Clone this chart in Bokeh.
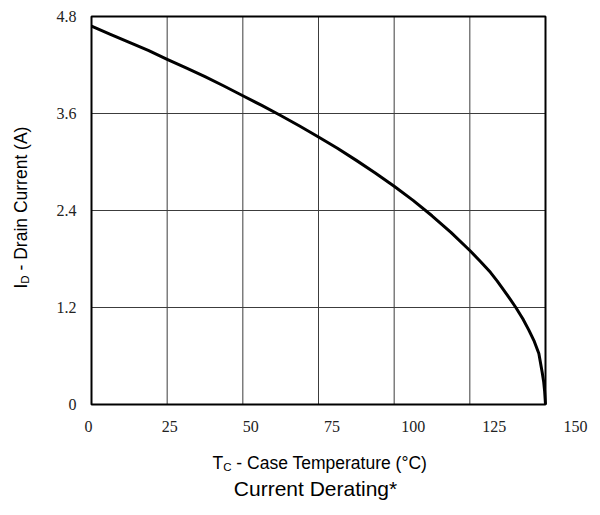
import math

from bokeh.embed import file_html
from bokeh.models import FixedTicker, Label, Range1d
from bokeh.plotting import figure
from bokeh.resources import INLINE

# Drain current limit versus case temperature
case_temp = [0, 6.25, 12.5, 18.75, 25, 31.25, 37.5, 43.75, 50, 56.25, 62.5, 68.75,
             75, 81.25, 87.5, 93.75, 100, 106.25, 112.5, 118.75, 125, 128.5,
             131.8, 134, 136.2, 138.2, 140.2, 142.5, 144.5, 146.3, 147.8, 148.9,
             149.4, 149.7, 150]
drain_current = [4.68, 4.58, 4.48, 4.38, 4.27, 4.165, 4.055, 3.94, 3.82, 3.70, 3.575, 3.445,
                 3.31, 3.17, 3.02, 2.865, 2.70, 2.525, 2.335, 2.13, 1.905, 1.77,
                 1.635, 1.53, 1.415, 1.31, 1.20, 1.06, 0.92, 0.78, 0.63, 0.40,
                 0.28, 0.17, 0.0]

temp_ticks = [0, 25, 50, 75, 100, 125, 150]
temp_tick_labels = ["0", "25", "50", "75", "100", "125", "150"]
current_ticks = [0, 1.2, 2.4, 3.6, 4.8]
current_tick_labels = ["0", "1.2", "2.4", "3.6", "4.8"]

T_MIN, T_MAX = 0, 150
I_MIN, I_MAX = 0, 4.8

# Canvas geometry (pixels)
W, H = 600, 515
FRAME_L, FRAME_R, FRAME_T, FRAME_B = 80, 585, 12, 408
BOX_L, BOX_R, BOX_T, BOX_B = 91, 545, 16, 404
LAB_0, LAB_150 = 88, 575  # where the temperature labels sit

# plotting range for the grid box and the curve
tc_scale = (BOX_R - BOX_L) / (T_MAX - T_MIN)
tc_range = Range1d(T_MIN - (BOX_L - FRAME_L) / tc_scale, T_MAX + (FRAME_R - BOX_R) / tc_scale)

# range used by the temperature labels along the bottom
lab_scale = (LAB_150 - LAB_0) / (T_MAX - T_MIN)
lab_range = Range1d(T_MIN - (LAB_0 - FRAME_L) / lab_scale, T_MAX + (FRAME_R - LAB_150) / lab_scale)

y_scale = (BOX_B - BOX_T) / (I_MAX - I_MIN)
y_range = Range1d(I_MIN - (FRAME_B - BOX_B) / y_scale, I_MAX + (BOX_T - FRAME_T) / y_scale)

p = figure(
    width=W, height=H,
    x_range=lab_range, y_range=y_range,
    output_backend="svg", toolbar_location=None,
    min_border_left=FRAME_L, min_border_right=W - FRAME_R,
    min_border_top=FRAME_T, min_border_bottom=H - FRAME_B,
)
p.extra_x_ranges = {"tc": tc_range}
p.outline_line_color = None
p.background_fill_color = "white"
p.border_fill_color = "white"
p.xgrid.visible = False
p.ygrid.visible = False

tick_font = "Liberation Serif"
for ax in (p.xaxis[0], p.yaxis[0]):
    ax.axis_line_color = None
    ax.major_tick_line_color = None
    ax.minor_tick_line_color = None
    ax.major_tick_out = 0
    ax.major_tick_in = 0
    ax.major_label_text_font = tick_font
    ax.major_label_text_font_size = "16px"
    ax.major_label_text_color = "#222222"

p.xaxis.ticker = FixedTicker(ticks=temp_ticks)
p.xaxis.major_label_overrides = dict(zip(temp_ticks, temp_tick_labels))
p.xaxis.major_label_standoff = 12
p.yaxis.ticker = FixedTicker(ticks=current_ticks)
p.yaxis.major_label_overrides = dict(zip(current_ticks, current_tick_labels))
p.yaxis.major_label_standoff = 4

# grid lines
grid_color = "#3c3c3c"
p.segment(x0=temp_ticks, y0=[I_MIN] * len(temp_ticks), x1=temp_ticks, y1=[I_MAX] * len(temp_ticks),
          line_color=grid_color, line_width=1, x_range_name="tc")
p.segment(x0=[T_MIN] * len(current_ticks), y0=current_ticks, x1=[T_MAX] * len(current_ticks), y1=current_ticks,
          line_color=grid_color, line_width=1, x_range_name="tc")

# box around the plot area
p.quad(left=[T_MIN], right=[T_MAX], bottom=[I_MIN], top=[I_MAX], fill_color=None,
       line_color="black", line_width=2, x_range_name="tc")

# derating curve
p.line(case_temp, drain_current, line_color="black", line_width=3, line_join="round",
       x_range_name="tc")

# axis titles with subscripts and the caption
title_font = "Liberation Sans"
big, small = 17.5, 11.5


def add(text, px, py, size, side, angle=0.0, align="left", baseline="alphabetic"):
    # pixel position converted into the label/current data ranges
    x = T_MIN + (px - LAB_0) / lab_scale
    y = I_MIN + (BOX_B - py) / y_scale
    p.add_layout(Label(x=x, y=y, text=text, text_font=title_font,
                       text_font_size=f"{size}px", text_color="black", angle=angle,
                       text_align=align, text_baseline=baseline), side)


# x title
tx, ty = 212, 462
add("T", tx, ty, big, "below")
add("C", tx + 0.611 * big, ty + 4, small, "below")
add("- Case Temperature (°C)", tx + 0.611 * big + 0.722 * small + 0.278 * big, ty, big, "below")

# y title, reading upward
yx, yy = 20, 288
add("I", yx, yy, big, "left", angle=math.pi / 2)
add("D", yx + 4, yy - 0.278 * big, small, "left", angle=math.pi / 2)
add("- Drain Current (A)", yx, yy - 0.278 * big - 0.722 * small - 0.278 * big, big, "left",
    angle=math.pi / 2)

# caption
add("Current Derating*", 315, 488, 21, "below", align="center")

open("out.html", "w").write(file_html(p, INLINE))
